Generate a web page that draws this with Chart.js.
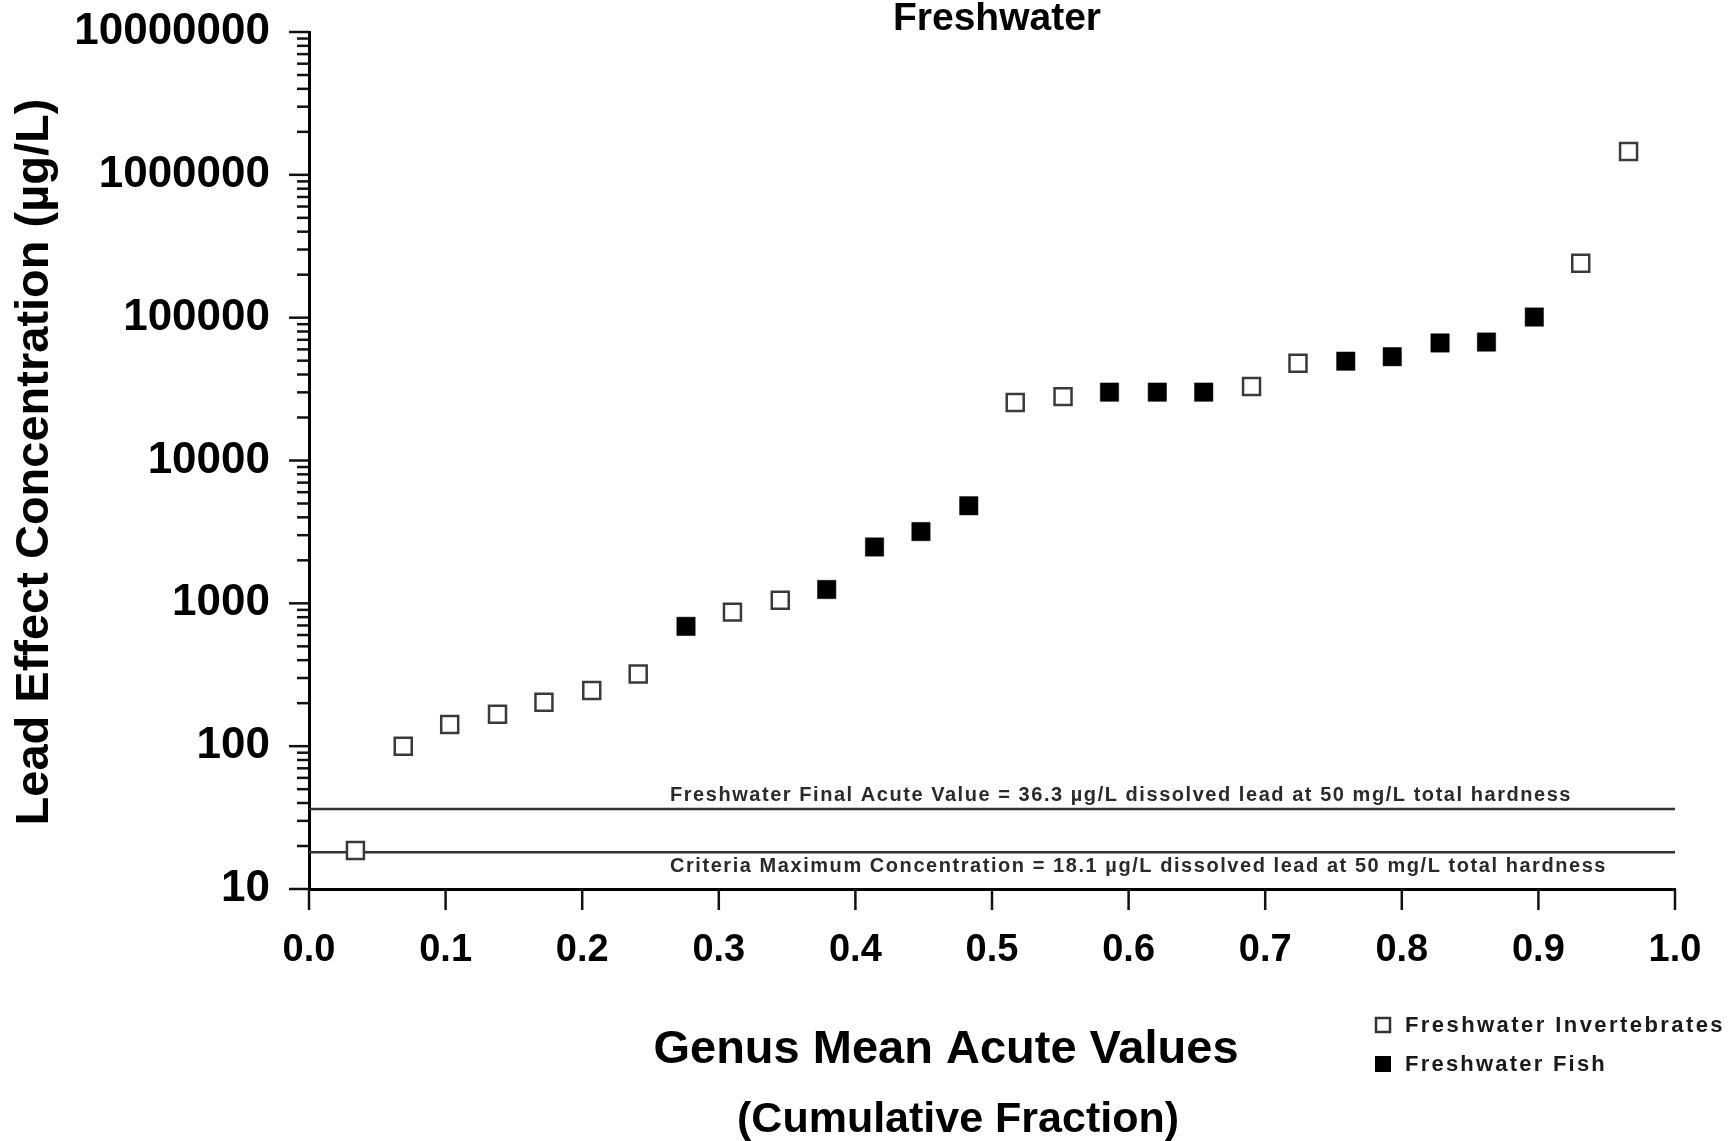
<!DOCTYPE html>
<html>
<head>
<meta charset="utf-8">
<title>Freshwater</title>
<script src="https://cdn.jsdelivr.net/npm/chart.js@4.4.1/dist/chart.umd.min.js"></script>
<style>
  html, body { margin: 0; padding: 0; background: #fff; }
  canvas { display: block; }
</style>
</head>
<body>
<canvas id="gmav" width="1732" height="1141"></canvas>
<script>
// cumulative fraction for each genus, ranked low to high
const fractions = [0.034, 0.069, 0.103, 0.138, 0.172, 0.207, 0.241, 0.276, 0.310, 0.345,
  0.379, 0.414, 0.448, 0.483, 0.517, 0.552, 0.586, 0.621, 0.655, 0.690,
  0.724, 0.759, 0.793, 0.828, 0.862, 0.897, 0.931, 0.966];
// genus mean acute values (µg/L)
const gmavs = [18.6, 100, 142, 167, 203, 245, 320, 690, 868, 1050,
  1250, 2480, 3180, 4820, 25500, 28000, 30100, 30100, 30100, 33000,
  47900, 49600, 53300, 66500, 67500, 101000, 240000, 1455000];
// I = invertebrate, F = fish
const taxa = ["I", "I", "I", "I", "I", "I", "I", "F", "I", "I",
  "F", "F", "F", "F", "I", "I", "F", "F", "F", "I",
  "I", "F", "F", "F", "F", "F", "I", "I"];

const seriesNames = ["Freshwater Invertebrates", "Freshwater Fish"];
const yDecades = [10, 100, 1000, 10000, 100000, 1000000, 10000000];
const xTicks = [0, 0.1, 0.2, 0.3, 0.4, 0.5, 0.6, 0.7, 0.8, 0.9, 1.0];

const finalAcuteValue = 36.3;
const criteriaMaxConc = 18.1;
const favLabel = "Freshwater Final Acute Value = 36.3 µg/L dissolved lead at 50 mg/L total hardness";
const cmcLabel = "Criteria Maximum Concentration = 18.1 µg/L dissolved lead at 50 mg/L total hardness";

const FONT = "'Liberation Sans', Arial, Helvetica, sans-serif";

function pick(code) {
  const out = [];
  fractions.forEach((x, i) => {
    if (taxa[i] === code) out.push({ x: x, y: gmavs[i] });
  });
  return out;
}

function spacedText(ctx, text, x, y, width) {
  ctx.letterSpacing = "0px";
  const w = ctx.measureText(text).width;
  ctx.letterSpacing = ((width - w) / text.length) + "px";
  ctx.fillText(text, x, y);
  ctx.letterSpacing = "0px";
}

// tick marks, titles, line labels and legend
const decorations = {
  id: "decorations",
  afterDraw(chart) {
    const ctx = chart.ctx;
    const area = chart.chartArea;
    const xs = chart.scales.x;
    const ys = chart.scales.y;

    ctx.save();
    ctx.strokeStyle = "#111";
    ctx.lineWidth = 2.5;
    ys.ticks.forEach(t => {
      const py = ys.getPixelForValue(t.value);
      const len = yDecades.includes(t.value) ? 20 : 12;
      ctx.beginPath();
      ctx.moveTo(area.left - len, py);
      ctx.lineTo(area.left, py);
      ctx.stroke();
    });
    xs.ticks.forEach(t => {
      const px = xs.getPixelForValue(t.value);
      ctx.beginPath();
      ctx.moveTo(px, area.bottom);
      ctx.lineTo(px, area.bottom + 21);
      ctx.stroke();
    });

    ctx.fillStyle = "#000";
    ctx.textAlign = "center";
    ctx.textBaseline = "alphabetic";
    ctx.font = "bold 39px " + FONT;
    ctx.fillText("Freshwater", 997, 30);

    ctx.font = "bold 47px " + FONT;
    ctx.fillText("Genus Mean Acute Values", 946, 1063);
    ctx.font = "bold 43px " + FONT;
    ctx.fillText("(Cumulative Fraction)", 958, 1132);

    ctx.save();
    ctx.translate(48, 462);
    ctx.rotate(-Math.PI / 2);
    ctx.font = "bold 47px " + FONT;
    ctx.fillText("Lead Effect Concentration (µg/L)", 0, 0);
    ctx.restore();

    ctx.fillStyle = "#2a2a2a";
    ctx.textAlign = "left";
    ctx.textBaseline = "middle";
    ctx.font = "bold 20px " + FONT;
    spacedText(ctx, favLabel, 670, ys.getPixelForValue(finalAcuteValue) - 14, 902);
    spacedText(ctx, cmcLabel, 670, ys.getPixelForValue(criteriaMaxConc) + 14, 937);

    // legend
    ctx.fillStyle = "#fff";
    ctx.strokeStyle = "#333";
    ctx.lineWidth = 2.5;
    ctx.fillRect(1376, 1018, 14, 14);
    ctx.strokeRect(1376, 1018, 14, 14);
    ctx.fillStyle = "#000";
    ctx.fillRect(1375, 1056, 16, 16);
    ctx.font = "bold 22px " + FONT;
    ctx.fillStyle = "#1a1a1a";
    spacedText(ctx, seriesNames[0], 1405, 1026, 320);
    spacedText(ctx, seriesNames[1], 1405, 1065, 202);
    ctx.restore();
  }
};

new Chart(document.getElementById("gmav"), {
  type: "scatter",
  data: {
    datasets: [
      {
        label: seriesNames[0],
        data: pick("I"),
        pointStyle: "rect",
        pointRadius: 12,
        pointBorderWidth: 2.5,
        pointBorderColor: "#3a3a3a",
        pointBackgroundColor: "#fff",
        order: 1
      },
      {
        label: seriesNames[1],
        data: pick("F"),
        pointStyle: "rect",
        pointRadius: 13,
        pointBorderWidth: 0.5,
        pointBorderColor: "#000",
        pointBackgroundColor: "#000",
        order: 1
      },
      {
        label: "Final Acute Value",
        data: [{ x: 0, y: finalAcuteValue }, { x: 1, y: finalAcuteValue }],
        showLine: true,
        borderColor: "#333",
        borderWidth: 2.5,
        pointRadius: 0,
        order: 2
      },
      {
        label: "Criteria Maximum Concentration",
        data: [{ x: 0, y: criteriaMaxConc }, { x: 1, y: criteriaMaxConc }],
        showLine: true,
        borderColor: "#333",
        borderWidth: 2.5,
        pointRadius: 0,
        order: 2
      }
    ]
  },
  options: {
    responsive: false,
    animation: false,
    devicePixelRatio: 1,
    layout: { padding: { top: 32, right: 57, left: 0, bottom: 0 } },
    plugins: {
      legend: { display: false },
      tooltip: { enabled: false },
      title: { display: false }
    },
    scales: {
      x: {
        type: "linear",
        min: 0,
        max: 1,
        afterFit(scale) { scale.height = 252; },
        afterBuildTicks(scale) { scale.ticks = xTicks.map(v => ({ value: v })); },
        grid: { drawOnChartArea: false, drawTicks: true, tickLength: 21, color: "transparent" },
        border: { display: true, color: "#000", width: 3 },
        ticks: {
          padding: 18,
          autoSkip: false,
          maxRotation: 0,
          color: "#000",
          font: { family: FONT, size: 38, weight: "bold" },
          callback: v => Number(v).toFixed(1)
        }
      },
      y: {
        type: "logarithmic",
        min: 10,
        max: 10000000,
        afterFit(scale) { scale.width = 309; },
        afterBuildTicks(scale) {
          const list = [];
          yDecades.forEach((d, i) => {
            list.push({ value: d, major: true });
            if (i < yDecades.length - 1) {
              for (let m = 2; m <= 9; m++) list.push({ value: m * d });
            }
          });
          scale.ticks = list;
        },
        grid: { drawOnChartArea: false, drawTicks: true, tickLength: 20, color: "transparent" },
        border: { display: true, color: "#000", width: 3 },
        ticks: {
          padding: 19,
          autoSkip: false,
          color: "#000",
          font: { family: FONT, size: 44, weight: "bold", lineHeight: 0.5 },
          callback: v => (yDecades.includes(v) ? String(v) : "")
        }
      }
    }
  },
  plugins: [decorations]
});
</script>
</body>
</html>
